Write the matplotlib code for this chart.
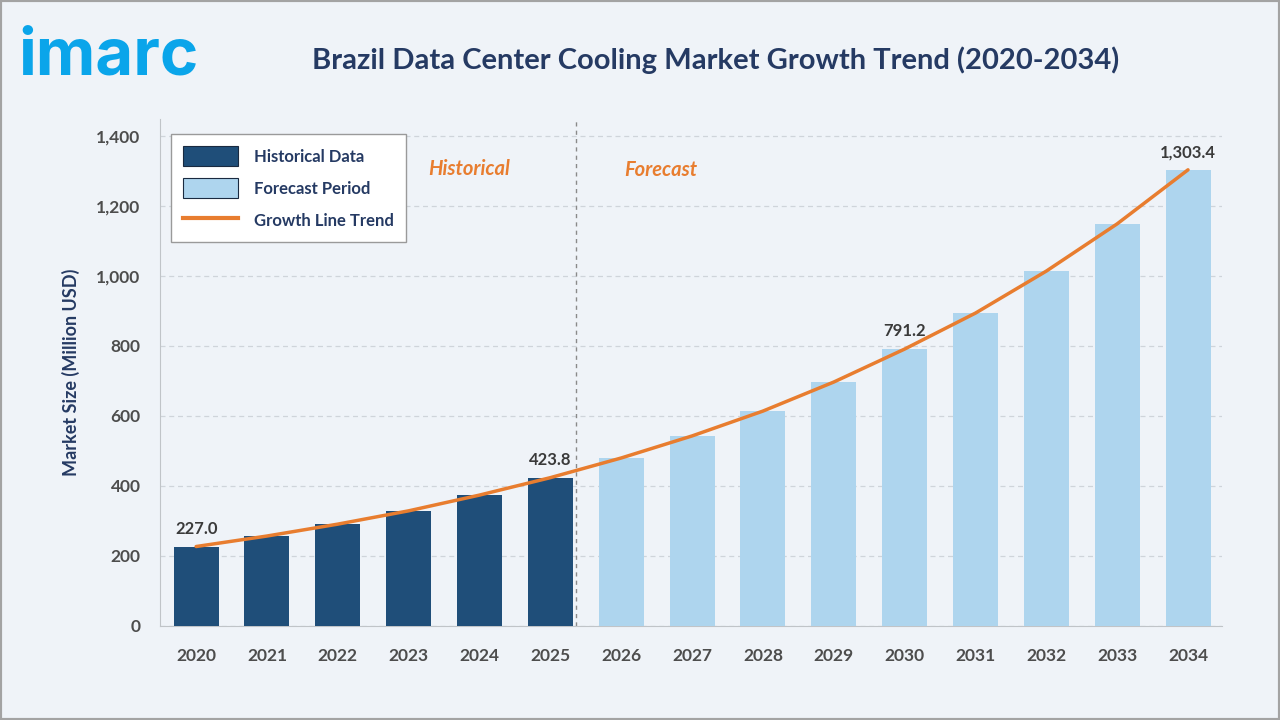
import matplotlib
matplotlib.use("Agg")
import matplotlib.pyplot as plt
import numpy as np
from matplotlib.patches import Patch
from matplotlib.lines import Line2D
from matplotlib.ticker import FuncFormatter

years = ["2020", "2021", "2022", "2023", "2024", "2025", "2026", "2027",
         "2028", "2029", "2030", "2031", "2032", "2033", "2034"]
market_size = [227.0, 257, 291, 329, 374, 423.8, 480, 543, 614, 697,
               791.2, 894, 1014, 1149, 1303.4]
n_historical = 6
labelled = {"2020": "227.0", "2025": "423.8", "2030": "791.2", "2034": "1,303.4"}

DARK = "#1f4e79"
LIGHT = "#aed5ee"
ORANGE = "#e87d2f"
NAVY = "#253a63"
TICK = "#4d4d4d"
BG = "#eff3f8"

plt.rcParams["font.family"] = ["Lato", "DejaVu Sans"]

fig = plt.figure(figsize=(12.8, 7.2), dpi=100, facecolor=BG)
ax = fig.add_axes([0.125, 0.1306, 0.8297, 0.7048])
ax.set_facecolor(BG)

x = np.arange(len(years))
colors = [DARK if i < n_historical else LIGHT for i in range(len(years))]
ax.bar(x, market_size, width=0.635, color=colors, zorder=3)
ax.plot(x, market_size, color=ORANGE, linewidth=2.5, zorder=4,
        solid_capstyle="round")

for xi, yr, v in zip(x, years, market_size):
    if yr in labelled:
        ax.annotate(labelled[yr], (xi, v), textcoords="offset points",
                    xytext=(0, 7), ha="center", va="bottom", fontsize=12,
                    fontweight="bold", color="#3a3a3a", zorder=5)

ax.axvline(5.36, color="#8a8a8a", linestyle=(0, (3, 3)), linewidth=1, zorder=2)
ax.text(3.85, 1305, "Historical", color=ORANGE, fontsize=14.5,
        fontweight="bold", style="italic", ha="center", va="center")
ax.text(6.56, 1302, "Forecast", color=ORANGE, fontsize=14.5,
        fontweight="bold", style="italic", ha="center", va="center")

ax.set_xlim(-0.51, 14.48)
ax.set_ylim(0, 1450)
ax.set_yticks(np.arange(0, 1401, 200))
ax.yaxis.set_major_formatter(FuncFormatter(lambda v, p: f"{v:,.0f}"))
ax.set_xticks(x)
ax.set_xticklabels(years)
ax.tick_params(axis="both", length=0, labelsize=12.5, labelcolor=TICK)
ax.tick_params(axis="x", pad=16)
ax.tick_params(axis="y", pad=14)
for lab in ax.get_xticklabels() + ax.get_yticklabels():
    lab.set_fontweight("bold")
ax.grid(True, axis="y", color="#cfd4da", linestyle=(0, (4, 3)), linewidth=0.9,
        zorder=0)
for side in ["top", "right"]:
    ax.spines[side].set_visible(False)
ax.spines["left"].set_color("#c0c4c8")
ax.spines["bottom"].set_color("#c0c4c8")

ax.set_ylabel("Market Size (Million USD)", fontsize=13, fontweight="bold",
              color=NAVY, labelpad=12)

handles = [
    Patch(facecolor=DARK, edgecolor="#1a2a40", linewidth=0.8, label="Historical Data"),
    Patch(facecolor=LIGHT, edgecolor="#1a2a40", linewidth=0.8, label="Forecast Period"),
    Line2D([0], [0], color=ORANGE, linewidth=3, label="Growth Line Trend"),
]
leg = ax.legend(handles=handles, loc="upper left", bbox_to_anchor=(0.0104, 0.969),
                frameon=True, fancybox=False, fontsize=12, handlelength=3.3,
                handleheight=1.5, labelspacing=0.7, borderpad=0.7,
                handletextpad=1.0, borderaxespad=0)
leg.get_frame().set_edgecolor("#9a9a9a")
leg.get_frame().set_facecolor("white")
leg.get_frame().set_alpha(1)
for t in leg.get_texts():
    t.set_color(NAVY)
    t.set_fontweight("bold")

fig.text(0.559, 0.917, "Brazil Data Center Cooling Market Growth Trend (2020-2034)",
         ha="center", va="center", fontsize=21, fontweight="bold", color=NAVY)
fig.text(0.014, 0.92, "imarc", ha="left", va="center", fontsize=47,
         fontweight="bold", color="#0aa5ea", family=["Inter", "DejaVu Sans"])

border = plt.Rectangle((0, 0), 1, 1, transform=fig.transFigure, fill=False,
                       edgecolor="#a3a3a3", linewidth=3)
fig.add_artist(border)

fig.savefig("out.png", dpi=100, facecolor=BG)
